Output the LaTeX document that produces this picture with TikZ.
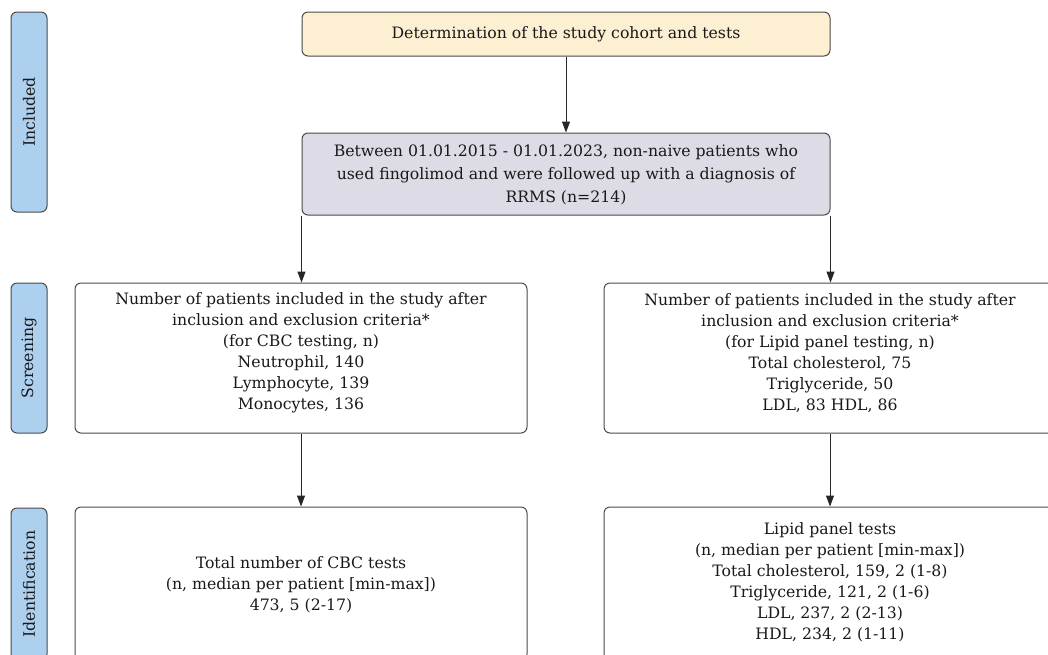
\documentclass[tikz,border=0pt]{standalone}
\usepackage{fontspec}
\setmainfont{DejaVu Serif}
\usetikzlibrary{arrows.meta}
\definecolor{sideblue}{HTML}{AED0EF}
\definecolor{cream}{HTML}{FCEFD2}
\definecolor{lav}{HTML}{DDDBE5}
\definecolor{edge}{HTML}{4A4A4A}
\tikzset{
  frame/.style={draw=edge, line width=1pt, rounded corners=6pt, inner sep=0pt},
  txt/.style={align=center, inner sep=0pt, text=black!90,
    font=\fontsize{15.7}{21}\selectfont},
  sidebox/.style={frame, fill=sideblue, rotate=90, minimum height=36pt,
    text=black!90, font=\fontsize{15.7}{19}\selectfont},
  arr/.style={draw=black!85, line width=1pt, -{Triangle[width=8pt,length=11pt]}}
}
\begin{document}
\begin{tikzpicture}[x=1pt,y=-1pt]
\useasboundingbox (0,0) rectangle (1048,654);
\clip (0,0) rectangle (1048,654);
% side labels
\node[sidebox, minimum width=200pt] (inc) at (29,112) {Included};
\node[sidebox, minimum width=150pt] (scr) at (29,358) {Screening};
\node[sidebox, minimum width=152pt] (idf) at (29,584) {Identification};
% frames
\node[frame, fill=cream, minimum width=528pt, minimum height=44pt] (top) at (566,34) {};
\node[frame, fill=lav, minimum width=528pt, minimum height=82pt] (pop) at (566,174) {};
\node[frame, fill=white, minimum width=452pt, minimum height=150pt] (scl) at (301,358) {};
\node[frame, fill=white, minimum width=452pt, minimum height=150pt] (scrr) at (830,358) {};
\node[frame, fill=white, minimum width=452pt, minimum height=153pt] (idl) at (301,583.5) {};
\node[frame, fill=white, minimum width=452pt, minimum height=153pt] (idr) at (830,583.5) {};
% texts
\node[txt] (top-t) at (566,34) {Determination of the study cohort and tests};
\node[txt, font=\fontsize{15.7}{23}\selectfont] (pop-t) at (566,175)
  {Between 01.01.2015 - 01.01.2023, non-naive patients who\\
   used fingolimod and were followed up with a diagnosis of\\
   RRMS (n=214)};
\node[txt] (scl-t) at (301,353)
  {Number of patients included in the study after\\
   inclusion and exclusion criteria*\\
   (for CBC testing, n)\\
   Neutrophil, 140\\
   Lymphocyte, 139\\
   Monocytes, 136};
\node[txt] (scrr-t) at (830,353)
  {Number of patients included in the study after\\
   inclusion and exclusion criteria*\\
   (for Lipid panel testing, n)\\
   Total cholesterol, 75\\
   Triglyceride, 50\\
   LDL, 83 HDL, 86};
\node[txt] (idl-t) at (301,585)
  {Total number of CBC tests\\
   (n, median per patient [min-max])\\
   473, 5 (2-17)};
\node[txt] (idr-t) at (830,582)
  {Lipid panel tests\\
   (n, median per patient [min-max])\\
   Total cholesterol, 159, 2 (1-8)\\
   Triglyceride, 121, 2 (1-6)\\
   LDL, 237, 2 (2-13)\\
   HDL, 234, 2 (1-11)};
% connectors
\draw[arr] (top.south) -- (pop.north);
\draw[arr] (pop.south west) -- (pop.south west |- scl.north);
\draw[arr] (pop.south east) -- (pop.south east |- scrr.north);
\draw[arr] (scl.south) -- (idl.north);
\draw[arr] (scrr.south) -- (idr.north);
\end{tikzpicture}
\end{document}
